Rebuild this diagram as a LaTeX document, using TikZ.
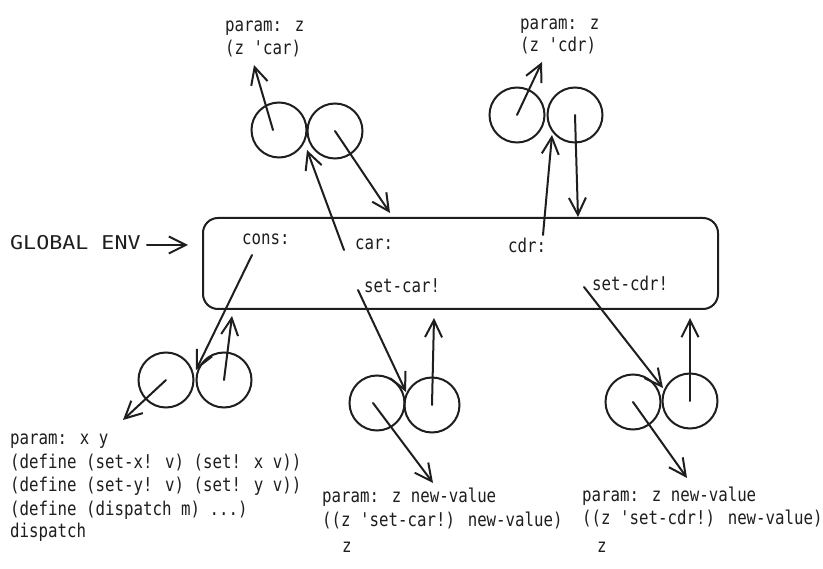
\documentclass[tikz,border=0pt]{standalone}
\usepackage{fontspec}
\newfontfamily\hand[FakeStretch=0.83]{DejaVu Sans Mono}
\newfontfamily\handwide[FakeStretch=1.14]{DejaVu Sans Mono}
\usetikzlibrary{arrows.meta}
\definecolor{ink}{HTML}{1E1E1E}
\begin{document}
\begin{tikzpicture}[x=1pt,y=-1pt,
  arr/.style={draw=ink, line width=2pt, line cap=round,
    -{Straight Barb[length=17pt,width=17pt,line width=2pt]}},
  cell/.style={circle, draw=ink, line width=2pt, minimum size=55pt, inner sep=0pt},
  lbl/.style={anchor=base west, inner sep=0pt, text=ink, font=\hand\fontsize{19}{23}\selectfont},
  envbox/.style={draw=ink, line width=2pt, rounded corners=15pt, minimum width=515pt, minimum height=91pt, inner sep=0pt}
]
\useasboundingbox (0,0) rectangle (823,569);
\fill[white] (0,0) rectangle (823,569);

% global environment
\node[envbox] (env) at (460.5,263.5) {};
\node[lbl, font=\handwide\fontsize{19}{23}\selectfont] (genv) at (10,250) {GLOBAL ENV};
\coordinate (genvstart) at (147,245);
\coordinate (genvtip) at (188,245);
\draw[arr] (genvstart) -- (genvtip);

\node[lbl] (cons) at (242,245) {cons:};
\node[lbl] (car) at (355,250) {car:};
\node[lbl] (cdr) at (508,253) {cdr:};
\node[lbl] (setcar) at (364,293) {set-car!};
\node[lbl] (setcdr) at (592,291) {set-cdr!};

% circles
\node[cell] (tl1) at (279,130) {};
\node[cell] (tl2) at (335,131) {};
\node[cell] (tr1) at (517,115) {};
\node[cell] (tr2) at (575,115) {};
\node[cell] (bl1) at (166,380) {};
\node[cell] (bl2) at (224,380) {};
\node[cell] (bm1) at (377,403) {};
\node[cell] (bm2) at (432,405) {};
\node[cell] (br1) at (633,402) {};
\node[cell] (br2) at (690,401) {};

% texts of the frames
\node[lbl] (tlA) at (225,32) {param: z};
\node[lbl] (tlB) at (225,55) {(z 'car)};
\node[lbl] (trA) at (520,30) {param: z};
\node[lbl] (trB) at (520,52) {(z 'cdr)};

\node[lbl] (bla) at (10,445) {param: x y};
\node[lbl] (blb) at (10,469) {(define (set-x! v) (set! x v))};
\node[lbl] (blc) at (10,492) {(define (set-y! v) (set! y v))};
\node[lbl] (bld) at (10,515) {(define (dispatch m) ...)};
\node[lbl] (ble) at (10,538) {dispatch};

\node[lbl] (bmA) at (322,503) {param: z new-value};
\node[lbl] (bmB) at (322,527) {((z 'set-car!) new-value)};
\node[lbl] (bmC) at (342,553) {z};

\node[lbl] (brA) at (582,502) {param: z new-value};
\node[lbl] (brB) at (582,525) {((z 'set-cdr!) new-value)};
\node[lbl] (brC) at (597,552) {z};

% free ends
\coordinate (tltip) at (254,65);
\coordinate (carstart) at (344,250);
\coordinate (tljoin) at (307,150);
\coordinate (tl2tip) at (390,213);
\coordinate (trtip) at (542,62);
\coordinate (cdrstart) at (543,235);
\coordinate (trjoin) at (552,135);
\coordinate (tr2tip) at (578,217);
\coordinate (consstart) at (252,255);
\coordinate (bljoin) at (196,370);
\coordinate (bl2tip) at (232,316);
\coordinate (bl1tip) at (123,420);
\coordinate (setcarstart) at (358,290);
\coordinate (bmjoin) at (406,392);
\coordinate (bm2tip) at (434,318);
\coordinate (bm1tip) at (433,483);
\coordinate (setcdrstart) at (584,287);
\coordinate (brjoin) at (663,388);
\coordinate (br2tip) at (690,318);
\coordinate (br1tip) at (687,478);

% connectors
\draw[arr] ([xshift=-6pt]tl1.center) -- (tltip);
\draw[arr] (carstart) -- (tljoin);
\draw[arr] (tl2.center) -- (tl2tip);
\draw[arr] (tr1.center) -- (trtip);
\draw[arr] (cdrstart) -- (trjoin);
\draw[arr] (tr2.center) -- (tr2tip);
\draw[arr] (consstart) -- (bljoin);
\draw[arr] (bl2.center) -- (bl2tip);
\draw[arr] (bl1.center) -- (bl1tip);
\draw[arr] (setcarstart) -- (bmjoin);
\draw[arr] (bm2.center) -- (bm2tip);
\draw[arr] ([xshift=-4pt]bm1.center) -- (bm1tip);
\draw[arr] (setcdrstart) -- (brjoin);
\draw[arr] (br2.center) -- (br2tip);
\draw[arr] (br1.center) -- (br1tip);
\end{tikzpicture}
\end{document}
